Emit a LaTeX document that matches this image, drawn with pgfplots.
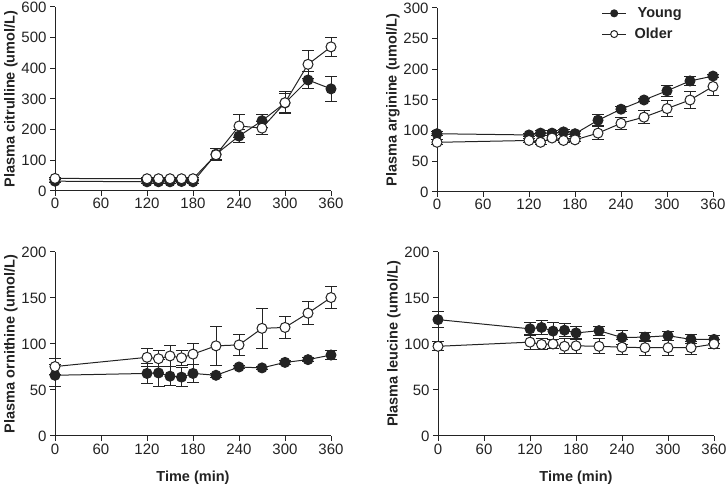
\documentclass[border=0pt]{standalone}
\usepackage{pgfplots}
\pgfplotsset{compat=1.18}
\usepackage{fontspec}
\setmainfont{Liberation Sans}
\definecolor{ink}{RGB}{35,35,35}
\pgfplotsset{
 panel/.style={
  scale only axis, width=276pt, height=184pt,
  xmin=0, xmax=360, ymin=0,
  axis x line=bottom, axis y line=left, axis line style={-, draw=ink, line width=1pt},
  tick align=outside, major tick length=5pt, tick style={draw=ink, line width=1pt},
  xtick={0,60,...,360},
  ticklabel style={font=\fontsize{15}{17}\selectfont, text=ink},
  xticklabel style={yshift=1pt},
  label style={font=\fontsize{14.5}{17}\selectfont\bfseries, text=ink},
  xlabel style={yshift=-10pt},
  ylabel style={yshift=-3pt},
  /pgf/number format/assume math mode=true,
  clip=false,
 },
 young/.style={draw=ink, line width=1pt, mark=*, mark size=5pt, mark options={fill=ink, draw=ink},
   error bars/.cd, y dir=both, y explicit, error bar style={line width=1pt, draw=ink},
   error mark options={rotate=90, mark size=6pt, line width=1pt, draw=ink}},
 older/.style={draw=ink, line width=1pt, mark=*, mark size=5pt, mark options={fill=white, draw=ink},
   error bars/.cd, y dir=both, y explicit, error bar style={line width=1pt, draw=ink},
   error mark options={rotate=90, mark size=6pt, line width=1pt, draw=ink}},
}
\begin{document}
\begin{tikzpicture}
\useasboundingbox (0,0) rectangle (726pt,486pt);
% Panel 1: citrulline
\begin{axis}[panel, at={(55pt,295pt)}, anchor=south west, ymax=600, ytick={0,100,...,600},
  ylabel={Plasma citrulline (umol/L)}]
\addplot[young] coordinates {
(0,32) +- (0,4) (120,30) +- (0,4) (135,30) +- (0,4) (150,30) +- (0,4) (165,31) +- (0,4) (180,30) +- (0,4)
(210,120) +- (0,18) (240,179) +- (0,20) (270,229) +- (0,22) (300,287) +- (0,32) (330,362) +- (0,28) (360,333) +- (0,40)};
\addplot[older] coordinates {
(0,41) +- (0,4) (120,40) +- (0,4) (135,40) +- (0,4) (150,40) +- (0,4) (165,40) +- (0,4) (180,40) +- (0,4)
(210,118) +- (0,20) (240,212) +- (0,38) (270,205) +- (0,20) (300,288) +- (0,35) (330,413) +- (0,46) (360,470) +- (0,30)};
\end{axis}
% Panel 2: arginine
\begin{axis}[panel, at={(437pt,294pt)}, anchor=south west, ymax=300, ytick={0,50,...,300},
  ylabel={Plasma arginine (umol/L)},
  legend style={draw=none, fill=none, at={(0.585,1.025)}, anchor=north west,
    font=\fontsize{14.5}{17}\selectfont\bfseries, text=ink, row sep=5pt},
  legend cell align=left,
  legend image code/.code={\draw[mark repeat=2,mark phase=2,#1,mark size=3.5pt] plot coordinates {(0pt,0pt) (12pt,0pt) (24pt,0pt)};}]
\addplot[young] coordinates {
(0,95) +- (0,3) (120,93) +- (0,3) (135,96) +- (0,4) (150,96) +- (0,4) (165,98) +- (0,4) (180,95) +- (0,4)
(210,117) +- (0,9) (240,135) +- (0,4) (270,150) +- (0,3) (300,165) +- (0,9) (330,181) +- (0,8) (360,189) +- (0,3)};
\addlegendentry{\hspace{9pt}Young}
\addplot[older] coordinates {
(0,81) +- (0,4) (120,84) +- (0,3) (135,81) +- (0,3) (150,88) +- (0,4) (165,84) +- (0,3) (180,85) +- (0,3)
(210,96) +- (0,10) (240,112) +- (0,10) (270,122) +- (0,11) (300,136) +- (0,13) (330,150) +- (0,14) (360,172) +- (0,14)};
\addlegendentry{\hspace{6pt}Older}
\end{axis}
% Panel 3: ornithine
\begin{axis}[panel, at={(55pt,50pt)}, anchor=south west, ymax=200, ytick={0,50,...,200},
  ylabel={Plasma ornithine (umol/L)}, xlabel={Time (min)}]
\addplot[young] coordinates {
(0,66) +- (0,12) (120,68) +- (0,11) (135,68.5) +- (0,15) (150,65) +- (0,10) (165,64) +- (0,10) (180,68) +- (0,10)
(210,66) +- (0,2) (240,75) +- (0,2) (270,74) +- (0,2) (300,80) +- (0,2) (330,83) +- (0,2) (360,88) +- (0,5)};
\addplot[older] coordinates {
(0,75.5) +- (0,9) (120,85.5) +- (0,10) (135,84) +- (0,9) (150,87) +- (0,11) (165,85) +- (0,8) (180,89) +- (0,11)
(210,98) +- (0,21) (240,99) +- (0,11) (270,117) +- (0,22) (300,118) +- (0,11.5) (330,133.5) +- (0,12.5) (360,150.5) +- (0,12)};
\end{axis}
% Panel 4: leucine
\begin{axis}[panel, at={(438pt,50pt)}, anchor=south west, ymax=200, ytick={0,50,...,200},
  ylabel={Plasma leucine (umol/L)}, xlabel={Time (min)}]
\addplot[young] coordinates {
(0,126.5) +- (0,9) (120,116.5) +- (0,7) (135,118) +- (0,8) (150,114) +- (0,9) (165,115) +- (0,7) (180,112) +- (0,7)
(210,114.5) +- (0,5) (240,107) +- (0,8) (270,107.5) +- (0,5) (300,109) +- (0,5) (330,105) +- (0,5) (360,105) +- (0,4)};
\addplot[older] coordinates {
(0,97.5) +- (0,5) (120,102) +- (0,8) (135,99.5) +- (0,6) (150,100) +- (0,5) (165,97.5) +- (0,8) (180,98) +- (0,8)
(210,97.5) +- (0,8) (240,96.5) +- (0,8) (270,96) +- (0,8) (300,96) +- (0,8) (330,96) +- (0,7) (360,100) +- (0,5)};
\end{axis}
\end{tikzpicture}
\end{document}
